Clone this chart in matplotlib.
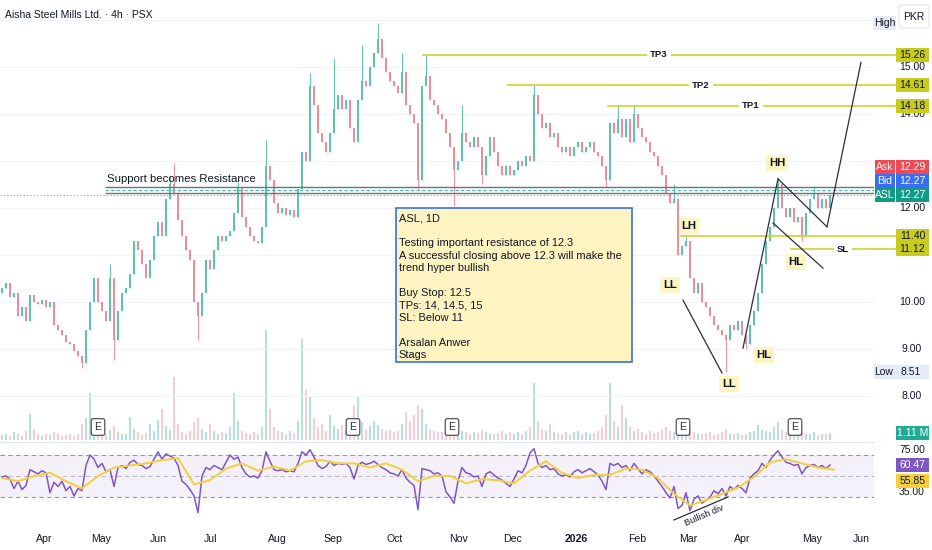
import numpy as np
import matplotlib
matplotlib.use('Agg')
import matplotlib.pyplot as plt
from matplotlib.patches import Rectangle, FancyBboxPatch
from matplotlib.lines import Line2D
import matplotlib.transforms as mtrans

plt.rcParams['font.family'] = ['Liberation Sans', 'DejaVu Sans']

W, H = 932, 550

# ---------------------------------------------------------------- data
# closes of the (thinned) 4h bars
closes = [
    10.3, 10.4, 10.1, 10.2, 9.7, 9.9, 9.6, 10.15, 10.0, 9.95,
    10.05, 9.9, 10.0, 9.5, 9.4, 9.3, 9.15, 9.1, 8.95, 8.85,
    8.7, 9.4, 10.0, 10.5, 10.0, 9.8, 9.6, 10.5, 9.2, 9.8,
    10.2, 10.3, 10.6, 11.3, 11.1, 10.8, 10.5, 10.9, 11.4, 11.7,
    11.4, 12.2, 12.5, 12.3, 11.75, 11.4, 11.1, 10.9, 10.0, 9.7,
    10.2, 10.9, 10.7, 11.1, 11.4, 11.3, 11.4, 11.5, 11.9, 12.45,
    11.8, 11.6, 11.4, 11.3, 11.25, 11.6, 12.9, 12.6, 12.1, 11.9,
    12.0, 11.85, 11.95, 11.8, 12.4, 13.2, 13.0, 14.6, 14.2, 13.6,
    13.4, 13.2, 13.6, 14.1, 14.4, 14.1, 14.3, 13.7, 13.4, 14.3,
    14.7, 14.6, 15.0, 15.3, 15.6, 15.2, 14.9, 14.7, 14.6, 14.45,
    14.9, 14.2, 14.0, 13.8, 12.6, 14.6, 14.8, 14.3, 14.2, 14.0,
    13.9, 13.6, 13.3, 12.8, 13.0, 13.6, 13.4, 13.3, 13.5, 13.3,
    12.7, 13.1, 13.5, 13.2, 12.9, 12.7, 12.9, 12.7, 12.8, 13.0,
    12.9, 13.1, 13.0, 14.4, 14.0, 13.7, 13.8, 13.5, 13.6, 13.3,
    13.2, 13.3, 13.1, 13.3, 13.4, 13.2, 13.3, 13.4, 13.2, 13.1,
    12.9, 12.6, 13.8, 13.6, 13.9, 13.5, 13.9, 13.4, 14.0, 13.7,
    13.5, 13.4, 13.2, 13.1, 12.9, 12.7, 12.3, 12.1, 12.2, 11.0,
    11.2, 11.3, 10.5, 10.2, 10.4, 10.0, 9.9, 9.7, 9.5, 9.4,
    9.3, 9.2, 9.5, 9.4, 9.6, 9.3, 9.1, 9.5, 9.8, 10.2,
    10.8, 11.3, 11.6, 12.0, 12.5, 12.0, 11.8, 12.0, 11.7, 11.8,
    11.4, 11.9, 12.2, 12.3, 12.0, 12.2, 12.0, 12.27,
]
first_open = 10.2
wick_high = {27: 10.8, 42: 12.7, 43: 12.96, 59: 12.55, 66: 13.45, 77: 14.87,
             83: 15.2, 90: 15.47, 94: 15.94, 100: 15.3, 106: 15.26, 115: 14.2,
             133: 14.61, 154: 14.18, 158: 14.18, 168: 12.5, 171: 11.4,
             194: 12.6, 203: 12.47}
wick_low = {20: 8.6, 28: 8.77, 49: 9.2, 104: 12.4, 113: 12.05, 120: 12.5,
            151: 12.45, 181: 8.51, 186: 9.0, 200: 11.3}

volume_m = [
    0.8, 1.0, 0.6, 1.2, 0.9, 0.7, 1.5, 4.2, 1.8, 0.9,
    0.7, 1.0, 0.8, 1.3, 0.9, 0.6, 0.8, 1.0, 0.7, 0.9,
    2.5, 3.5, 7.5, 3.0, 1.5, 1.2, 1.0, 1.6, 2.2, 1.3,
    1.0, 0.9, 3.7, 1.8, 1.2, 0.8, 1.1, 2.6, 1.4, 3.2,
    5.0, 2.2, 1.6, 10.0, 2.5, 1.3, 1.0, 1.4, 2.8, 3.5,
    1.8, 1.2, 2.6, 1.5, 1.0, 1.3, 1.1, 2.0, 7.5, 3.0,
    1.4, 1.1, 0.9, 1.2, 1.0, 2.0, 17.5, 5.0, 2.0, 1.5,
    1.2, 1.0, 1.4, 1.1, 3.0, 16.0, 8.0, 7.0, 3.5, 2.0,
    2.5, 1.5, 4.0, 2.2, 1.8, 2.4, 1.6, 2.0, 5.5, 7.0,
    2.8, 1.6, 2.2, 3.0, 2.4, 1.8, 1.4, 1.6, 1.2, 1.5,
    2.6, 4.5, 3.0, 4.0, 5.5, 5.0, 2.5, 1.8, 1.5, 1.3,
    1.2, 1.6, 2.2, 3.0, 1.8, 1.4, 1.2, 1.0, 1.3, 1.1,
    1.6, 1.2, 1.0, 0.9, 1.1, 1.4, 1.0, 1.2, 0.9, 1.3,
    1.0, 1.5, 2.0, 9.0, 3.0, 1.6, 1.4, 2.5, 1.2, 1.1,
    1.0, 1.3, 0.9, 1.2, 1.4, 1.0, 1.2, 0.9, 1.1, 1.5,
    2.0, 4.0, 9.0, 3.0, 2.0, 5.5, 3.5, 2.0, 1.5, 1.8,
    1.2, 1.0, 1.4, 1.1, 1.3, 1.6, 2.0, 1.5, 1.2, 2.2,
    1.8, 1.4, 1.6, 1.2, 1.0, 0.9, 1.1, 1.3, 0.8, 1.0,
    1.2, 1.8, 1.0, 0.9, 1.1, 0.8, 1.0, 1.2, 1.4, 2.4,
    1.6, 1.5, 1.3, 2.0, 2.8, 1.6, 1.2, 1.1, 1.0, 1.3,
    1.4, 0.9, 1.0, 1.2, 0.8, 0.9, 1.0, 1.11,
]

rsi = [
    49, 50, 47, 38, 45, 37, 41, 56, 54, 52,
    55, 53, 34, 44, 40, 45, 36, 40, 31, 38,
    36, 60, 70, 66, 58, 62, 54, 56, 40, 58,
    60, 57, 63, 65, 61, 60, 57, 59, 66, 73,
    66, 71, 69, 67, 60, 45, 42, 37, 31, 15,
    50, 58, 56, 60, 58, 56, 63, 70, 66, 68,
    58, 52, 49, 50, 48, 55, 73, 64, 56, 55,
    56, 54, 55, 54, 62, 73, 70, 75, 68, 60,
    57, 59, 64, 60, 62, 61, 62, 58, 47, 60,
    63, 61, 62, 64, 61, 58, 56, 53, 52, 50,
    56, 48, 44, 41, 18, 57, 56, 55, 52, 53,
    50, 35, 30, 24, 45, 58, 53, 52, 49, 50,
    40, 52, 54, 51, 48, 46, 43, 40, 47, 55,
    53, 60, 72, 76, 62, 58, 60, 56, 57, 52,
    50, 51, 49, 54, 56, 53, 55, 57, 54, 51,
    45, 37, 62, 60, 62, 58, 60, 55, 62, 57,
    52, 56, 54, 50, 45, 40, 34, 29, 40, 19,
    22, 34, 17, 28, 31, 24, 27, 30, 36, 33,
    38, 31, 40, 37, 41, 38, 34, 48, 52, 55,
    62, 58, 65, 70, 74, 68, 63, 62, 60, 61,
    52, 58, 60, 61, 58, 60, 57, 60.47,
]
# RSI moving average, one reading every 4 bars
rsi_ma = [48, 45, 50, 53, 45, 38, 50, 58, 60, 62,
          65, 67, 42, 46, 57, 62, 55, 59, 55, 64,
          65, 62, 62, 58, 62, 56, 45, 50, 50, 43,
          47, 46, 43, 55, 64, 53, 48, 51, 51, 57,
          56, 48, 33, 22, 27, 33, 39, 49, 63, 66,
          62, 58, 56]
rsi_ma_last = 55.85

month_labels = ['Apr', 'May', 'Jun', 'Jul', 'Aug', 'Sep', 'Oct', 'Nov',
                'Dec', '2026', 'Feb', 'Mar', 'Apr', 'May', 'Jun']
month_bar = [10.5, 24.75, 39, 52.25, 68.75, 82.75, 98.25, 114.25,
             127.75, 143.5, 158.75, 171.5, 185, 202.5, 214.75]
earnings_bar = [24, 87.75, 112.5, 170.25, 198.25]

tp_names = ['TP3', 'TP2', 'TP1']
tp_prices = [15.26, 14.61, 14.18]
tp_from_bar = [105.25, 126.5, 151.5]
tp_label_bar = [164.25, 174.75, 187.25]
lh_price, lh_from_bar = 11.40, 169.75
sl_price, sl_from_bar, sl_label_bar = 11.12, 197.25, 210.25
support_top, support_mid, support_bot, support_from_bar = 12.45, 12.38, 12.32, 25.75
last_price, ask_price, bid_price = 12.27, 12.29, 12.27
low_price = 8.51

trend_lines = [((170.25, 10.04), (180.0, 8.49)),
               ((185.25, 9.02), (194.0, 12.62)),
               ((194.0, 12.62), (206.25, 11.60)),
               ((206.25, 11.60), (214.75, 15.10)),
               ((192.75, 11.68), (205.25, 10.72))]
swing_labels = [('HH', 193.75, 12.96), ('LH', 171.75, 11.62), ('LL', 167.0, 10.36),
                ('LL', 181.75, 8.26), ('HL', 190.5, 8.87), ('HL', 198.5, 10.85)]

note_lines = ['ASL, 1D', '', 'Testing important resistance of 12.3',
              'A successful closing above 12.3 will make the', 'trend hyper bullish', '',
              'Buy Stop: 12.5', 'TPs: 14, 14.5, 15', 'SL: Below 11', '',
              'Arsalan Anwer', 'Stags']

# ---------------------------------------------------------------- figure
UP, DOWN = '#5cc2b1', '#f08c9a'
TAG_YEL = '#c9cb1f'
LINE_YEL = '#d2d22c'
TXT = '#131722'
SCALE_FS = 7.5

fig = plt.figure(figsize=(W / 100, H / 100), dpi=100)
fig.patch.set_facecolor('white')


def fx(px):
    return px / W


def fy(py):
    return 1 - py / H


PANE_R = 874
ax = fig.add_axes([0, fy(440), fx(PANE_R), 440 / H])
vax = fig.add_axes([0, fy(440), fx(PANE_R), 440 / H], sharex=ax)
rax = fig.add_axes([0, fy(527), fx(PANE_R), 84 / H], sharex=ax)

vax.set_zorder(1)
ax.set_zorder(2)
ax.patch.set_visible(False)
for a in (ax, vax, rax):
    for s in a.spines.values():
        s.set_visible(False)
    a.tick_params(length=0)
    a.set_yticks([])
ax.tick_params(axis='x', labelbottom=False)
vax.tick_params(axis='x', labelbottom=False)

ax.set_xlim(-0.5, (PANE_R - 2) / 4)
ax.set_ylim(7.0638, 16.4255)
vax.set_ylim(0, 70)
vax.axis('off')
rax.set_ylim(1.4, 81.4)

n = len(closes)
idx = np.arange(n)
c = np.array(closes)
o = np.r_[first_open, c[:-1]]
hi = np.maximum(o, c)
lo = np.minimum(o, c)
for k, v in wick_high.items():
    hi[k] = v
for k, v in wick_low.items():
    lo[k] = v
up = c >= o
cols = np.where(up, UP, DOWN)

# grid
for p in range(8, 17):
    ax.axhline(p, color='#f0f3fa', lw=0.8, zorder=0)

# volume
vcols = np.where(up, '#b4e2da', '#f8ccd2')
vax.bar(idx, volume_m, width=0.5, color=vcols, lw=0)

# candles
ax.vlines(idx, lo, hi, colors=cols, lw=0.7, zorder=3)
ax.bar(idx, np.maximum(np.abs(c - o), 0.03), bottom=np.minimum(o, c),
       width=0.55, color=cols, lw=0, zorder=3)

# support / resistance band
ax.axhline(last_price, color='#9598a1', lw=0.8, ls=(0, (1, 2)), zorder=2)
ax.hlines([support_top, support_bot], support_from_bar, 220, color='#6f727c', lw=1.0, zorder=4)
ax.hlines(support_mid, support_from_bar, 220, color='#3fbfa8', lw=0.8, ls=(0, (3, 2)), zorder=4)
ax.text(support_from_bar + 0.6, support_top + 0.07, 'Support becomes Resistance',
        fontsize=8.2, color=TXT, va='bottom', ha='left', zorder=6)

# targets and levels
for name, p, x0, xl in zip(tp_names, tp_prices, tp_from_bar, tp_label_bar):
    ax.plot([x0, 224], [p, p], color=LINE_YEL, lw=1.2, zorder=4, clip_on=False)
    ax.text(xl, p, name, ha='center', va='center', fontsize=6.8, fontweight='bold', color=TXT,
            zorder=6, bbox=dict(boxstyle='square,pad=0.35', fc='white', ec='none'))
ax.plot([lh_from_bar, 224], [lh_price, lh_price], color=LINE_YEL, lw=1.2, zorder=4, clip_on=False)
ax.plot([sl_from_bar, 224], [sl_price, sl_price], color=LINE_YEL, lw=1.2, zorder=4, clip_on=False)
ax.text(sl_label_bar, sl_price, 'SL', ha='center', va='center', fontsize=6.8, fontweight='bold',
        color=TXT, zorder=6, bbox=dict(boxstyle='square,pad=0.35', fc='white', ec='none'))

# pattern drawings
for (x0, y0), (x1, y1) in trend_lines:
    ax.plot([x0, x1], [y0, y1], color='#2a2e39', lw=0.9, zorder=5)
for t, x, y in swing_labels:
    ax.text(x, y, t, ha='center', va='center', fontsize=8.2, fontweight='bold', color=TXT,
            zorder=6, bbox=dict(boxstyle='square,pad=0.25', fc='#fbf6c4', ec='none'))

# note box
note_x0, note_x1, note_top, note_bot = 98.5, 157.5, 12.0, 8.72
ax.add_patch(Rectangle((note_x0, note_bot), note_x1 - note_x0, note_top - note_bot,
                       fc='#fdf4c2', ec='#3c6fd8', lw=1.2, zorder=6))
for i, line in enumerate(note_lines):
    ax.text(note_x0 + 0.7, note_top - 0.22 - i * 0.265, line, fontsize=7.9, color=TXT,
            va='center', ha='left', zorder=7)

# earnings markers
etr = mtrans.blended_transform_factory(ax.transData, ax.transAxes)
for b in earnings_bar:
    ax.text(b, 1 - 427 / 440, 'E', transform=etr, ha='center', va='center', fontsize=7.5,
            color='#2a2e39', zorder=6,
            bbox=dict(boxstyle='round,pad=0.32,rounding_size=0.2', fc='white', ec='#50535e', lw=0.9))

# title
fig.text(fx(5), fy(15), 'Aisha Steel Mills Ltd. · 4h · PSX', fontsize=7.5, color=TXT,
         ha='left', va='center')

# ---------------------------------------------------------------- RSI pane
rax.axhspan(30, 70, color='#7e57c2', alpha=0.08, lw=0)
for lvl, a in ((70, 1), (50, 0.6), (30, 1)):
    rax.axhline(lvl, color='#9598a1', lw=0.8, ls=(0, (4, 3)), alpha=a)
rax.plot(idx, rsi, color='#7e57c2', lw=1.1, zorder=3)
rax.plot(np.arange(len(rsi_ma)) * 4, rsi_ma, color='#f5cf3a', lw=1.4, zorder=4)
rax.plot([168, 181.5], [8.1, 30], color='#2a2e39', lw=0.9, zorder=5)
rax.text(175.5, 12.6, 'Bullish div', rotation=23, ha='center', va='center', fontsize=6.6,
         color=TXT, zorder=6)

rax.set_xticks(month_bar)
rax.set_xticklabels(month_labels, fontsize=7.6, color=TXT)
rax.tick_params(axis='x', pad=5)
for lab in rax.get_xticklabels():
    if lab.get_text() == '2026':
        lab.set_fontweight('bold')

fig.add_artist(Line2D([0, fx(PANE_R)], [fy(441.5), fy(441.5)], color='#e0e3eb', lw=0.8))

# ---------------------------------------------------------------- right scale
fig.canvas.draw()


def py_of(a, v):
    return H - a.transData.transform((0, v))[1]


def box(x0, x1, py, fc, h=14, ec='none', z=6):
    fig.add_artist(Rectangle((fx(x0), fy(py + h / 2)), (x1 - x0) / W, h / H,
                             transform=fig.transFigure, fc=fc, ec=ec, lw=0.8, zorder=z))


def tag(py, value, fc, tc='white', label=None):
    box(896, 929, py, fc)
    fig.text(fx(912.5), fy(py), value, ha='center', va='center', fontsize=SCALE_FS, color=tc, zorder=8)
    if label:
        box(875, 895, py, fc)
        fig.text(fx(885), fy(py), label, ha='center', va='center', fontsize=SCALE_FS,
                 color=tc, zorder=8)


for v in (15, 14, 12, 10, 9, 8):
    fig.text(fx(912), fy(py_of(ax, v)), f'{v:.2f}', ha='center', va='center',
             fontsize=SCALE_FS, color=TXT, zorder=5)

for name, p in zip(tp_names, tp_prices):
    tag(py_of(ax, p), f'{p:.2f}', TAG_YEL, TXT)
tag(py_of(ax, lh_price), f'{lh_price:.2f}', TAG_YEL, TXT)
tag(py_of(ax, sl_price), f'{sl_price:.2f}', TAG_YEL, TXT)

p_last = py_of(ax, last_price)
tag(p_last - 28, f'{ask_price:.2f}', '#f04b55', label='Ask')
tag(p_last - 14, f'{bid_price:.2f}', '#3a6ef2', label='Bid')
tag(p_last, f'{last_price:.2f}', '#139a84', label='ASL')

# low / high markers
p_low = py_of(ax, low_price)
box(874, 929, p_low, '#e6ecf5')
fig.text(fx(884), fy(p_low), 'Low', ha='center', va='center', fontsize=SCALE_FS, color=TXT, zorder=8)
fig.text(fx(911), fy(p_low), f'{low_price:.2f}', ha='center', va='center', fontsize=SCALE_FS,
         color=TXT, zorder=8)
box(873, 896, 23, '#e6ecf5')
fig.text(fx(884.5), fy(23), 'High', ha='center', va='center', fontsize=SCALE_FS, color=TXT, zorder=8)
fig.add_artist(FancyBboxPatch((fx(899), fy(28)), 30 / W, 23 / H,
                              boxstyle='round,pad=0,rounding_size=0.004',
                              transform=fig.transFigure, fc='white', ec='#e0e3eb', lw=0.8, zorder=7))
fig.text(fx(914), fy(16.5), 'PKR', ha='center', va='center', fontsize=SCALE_FS, color=TXT, zorder=8)

# volume tag
tag(py_of(vax, volume_m[-1]), f'{volume_m[-1]:.2f} M', '#22ab94')

# RSI tags
fig.text(fx(912), fy(py_of(rax, 75)), '75.00', ha='center', va='center', fontsize=SCALE_FS,
         color=TXT, zorder=5)
fig.text(fx(912), fy(py_of(rax, 35)), '35.00', ha='center', va='center', fontsize=SCALE_FS,
         color=TXT, zorder=5)
p_rsi = py_of(rax, rsi[-1])
tag(p_rsi, f'{rsi[-1]:.2f}', '#7e57c2')
tag(p_rsi + 16, f'{rsi_ma_last:.2f}', '#f5cf3a', TXT)

fig.savefig('out.png', dpi=100)
